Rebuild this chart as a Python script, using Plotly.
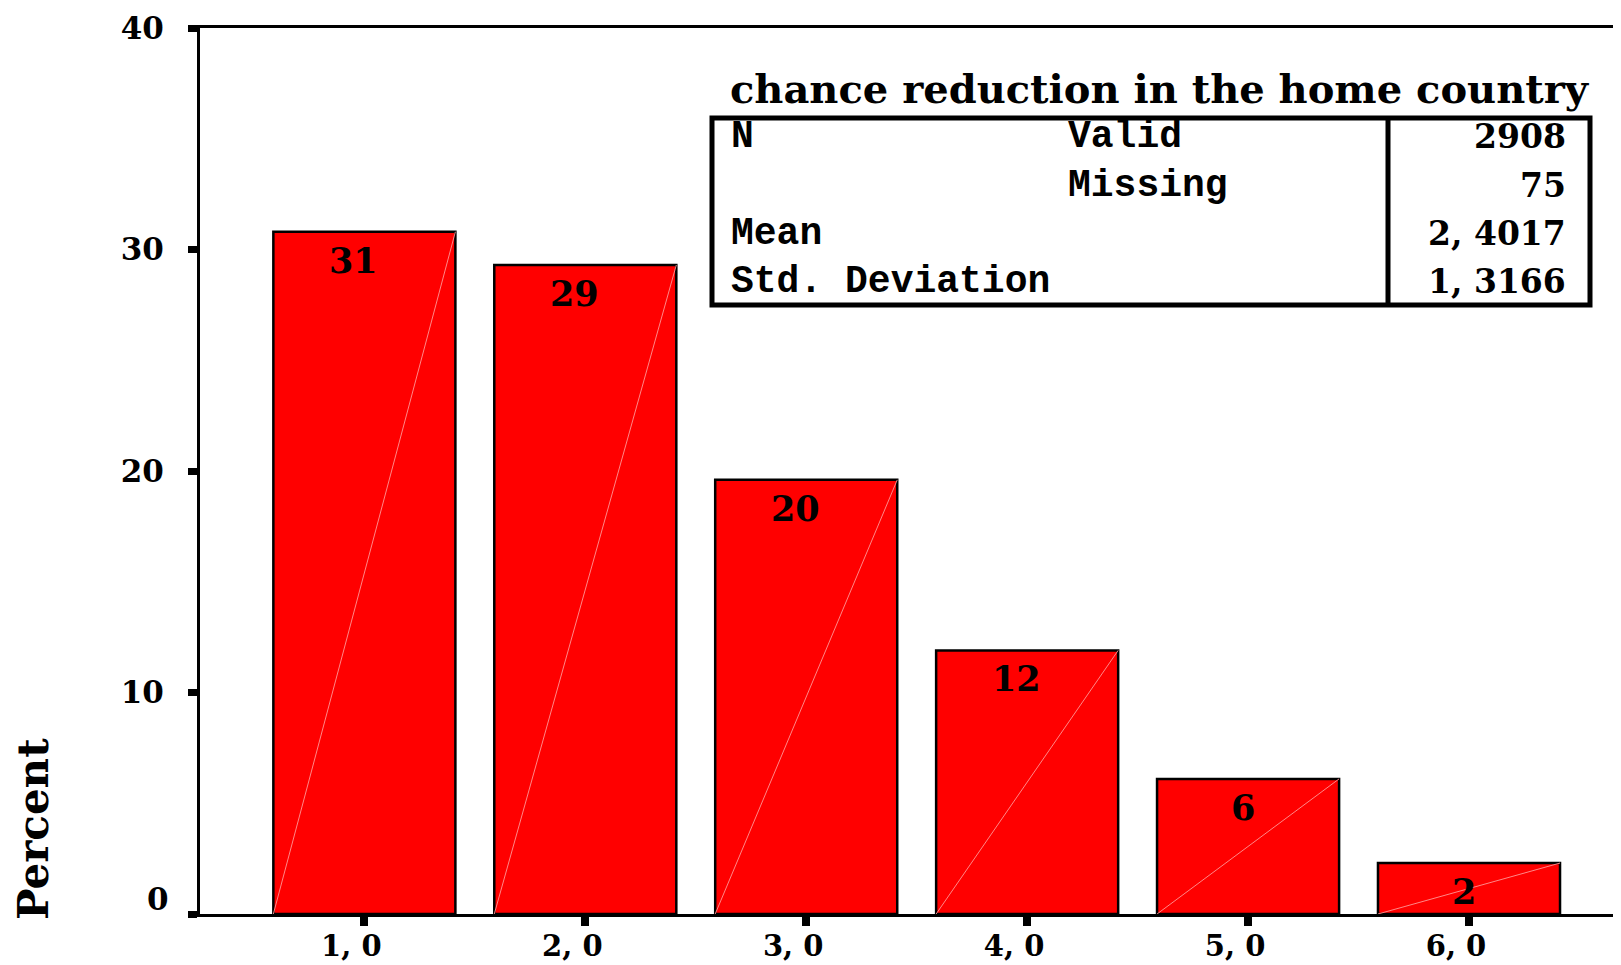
import plotly.graph_objects as go

# ---- data ----
categories = [1, 2, 3, 4, 5, 6]
tick_labels = ["1, 0", "2, 0", "3, 0", "4, 0", "5, 0", "6, 0"]
percent = [30.8, 29.3, 19.6, 11.9, 6.1, 2.3]
bar_labels = ["31", "29", "20", "12", "6", "2"]
y_tickvals = [0, 10, 20, 30, 40]
y_ticktext = ["0", "10", "20", "30", "40"]

stats_title = "chance reduction in the home country"
stats_left = ["N", "", "Mean", "Std. Deviation"]
stats_mid = ["Valid", "Missing", "", ""]
stats_values = ["2908", "75", "2, 4017", "1, 3166"]

# ---- layout geometry (screen pixels; page body has an 8px margin) ----
OFF = 8
W, H = 1621 - OFF, 965 - OFF
L, R, T, B = 200, 1621, 28, 914   # screen coords of the plot area
BAR_W = 0.824


def px(xpix):
    return (xpix - L) / (R - L)


def py(ypix):
    return (B - ypix) / (B - T)


SERIF = "DejaVu Serif"
MONO = "Liberation Mono"

fig = go.Figure()
fig.add_trace(go.Bar(
    x=categories, y=percent, width=BAR_W,
    marker=dict(color="#FF0000", line=dict(color="black", width=2.5)),
    hoverinfo="x+y",
))

# faint diagonal rendering artefact inside each bar
dx, dy = [], []
for c, v in zip(categories, percent):
    dx += [c - BAR_W / 2, c + BAR_W / 2, None]
    dy += [0, v, None]
fig.add_trace(go.Scatter(x=dx, y=dy, mode="lines",
                         line=dict(color="rgba(255,150,150,0.9)", width=1),
                         hoverinfo="skip"))

annotations = []
for c, v, t in zip(categories, percent, bar_labels):
    annotations.append(dict(x=c, y=v, text=t, showarrow=False, xanchor="center",
                            yanchor="top", yshift=-6, xshift=-5.5 * len(t),
                            font=dict(family=SERIF, size=35, color="black", weight="bold")))

# the "0" y tick label sits slightly raised in the original
annotations.append(dict(xref="paper", yref="y", x=px(171), y=y_tickvals[0], yshift=15,
                        text=y_ticktext[0], showarrow=False, xanchor="right", yanchor="middle",
                        font=dict(family=SERIF, size=31, color="black", weight="bold")))

# y axis title
annotations.append(dict(xref="paper", yref="paper", x=px(33), y=py(829), text="Percent",
                        textangle=-90, showarrow=False, xanchor="center", yanchor="middle",
                        font=dict(family=SERIF, size=42, color="black", weight="bold")))

# stats table
annotations.append(dict(xref="paper", yref="paper", x=px(728), y=py(89), text=stats_title,
                        showarrow=False, xanchor="left", yanchor="middle",
                        font=dict(family=SERIF, size=40, color="black", weight="bold")))
row_y = [137, 185, 234, 281]
for yy, lt, mt, vt in zip(row_y, stats_left, stats_mid, stats_values):
    if lt:
        annotations.append(dict(xref="paper", yref="paper", x=px(729), y=py(yy), text=lt,
                                showarrow=False, xanchor="left", yanchor="middle",
                                font=dict(family=MONO, size=38, color="black", weight="bold")))
    if mt:
        annotations.append(dict(xref="paper", yref="paper", x=px(1066), y=py(yy), text=mt,
                                showarrow=False, xanchor="left", yanchor="middle",
                                font=dict(family=MONO, size=38, color="black", weight="bold")))
    annotations.append(dict(xref="paper", yref="paper", x=px(1568), y=py(yy), text=vt,
                            showarrow=False, xanchor="right", yanchor="middle",
                            font=dict(family=SERIF, size=33, color="black", weight="bold")))

shapes = [
    dict(type="rect", xref="paper", yref="paper", x0=px(712), x1=px(1590), y0=py(305), y1=py(118),
         line=dict(color="black", width=5), fillcolor="rgba(0,0,0,0)"),
    dict(type="line", xref="paper", yref="paper", x0=px(1388), x1=px(1388), y0=py(305), y1=py(118),
         line=dict(color="black", width=5)),
]

fig.update_layout(
    width=W, height=H,
    margin=dict(l=L - OFF, r=0, t=T - OFF, b=(H + OFF) - B, autoexpand=False),
    paper_bgcolor="white", plot_bgcolor="white",
    showlegend=False,
    annotations=annotations, shapes=shapes,
    xaxis=dict(range=[0.256, 6.688], tickmode="array", tickvals=categories, ticktext=tick_labels,
               showline=True, linecolor="black", linewidth=3, mirror=True,
               ticks="outside", ticklen=9, tickwidth=8, tickcolor="black",
               showgrid=False, zeroline=False, automargin=False,
               ticklabelstandoff=-5, ticklabelshift=-13,
               tickfont=dict(family=SERIF, size=29, color="black", weight="bold")),
    yaxis=dict(range=[0, 40], tickmode="array", tickvals=y_tickvals,
               ticktext=[""] + y_ticktext[1:],
               showline=True, linecolor="black", linewidth=3,
               ticks="outside", ticklen=9, tickwidth=7, tickcolor="black",
               showgrid=False, zeroline=False, ticklabelstandoff=18, automargin=False,
               tickfont=dict(family=SERIF, size=31, color="black", weight="bold")),
)

fig.write_html("out.html")
